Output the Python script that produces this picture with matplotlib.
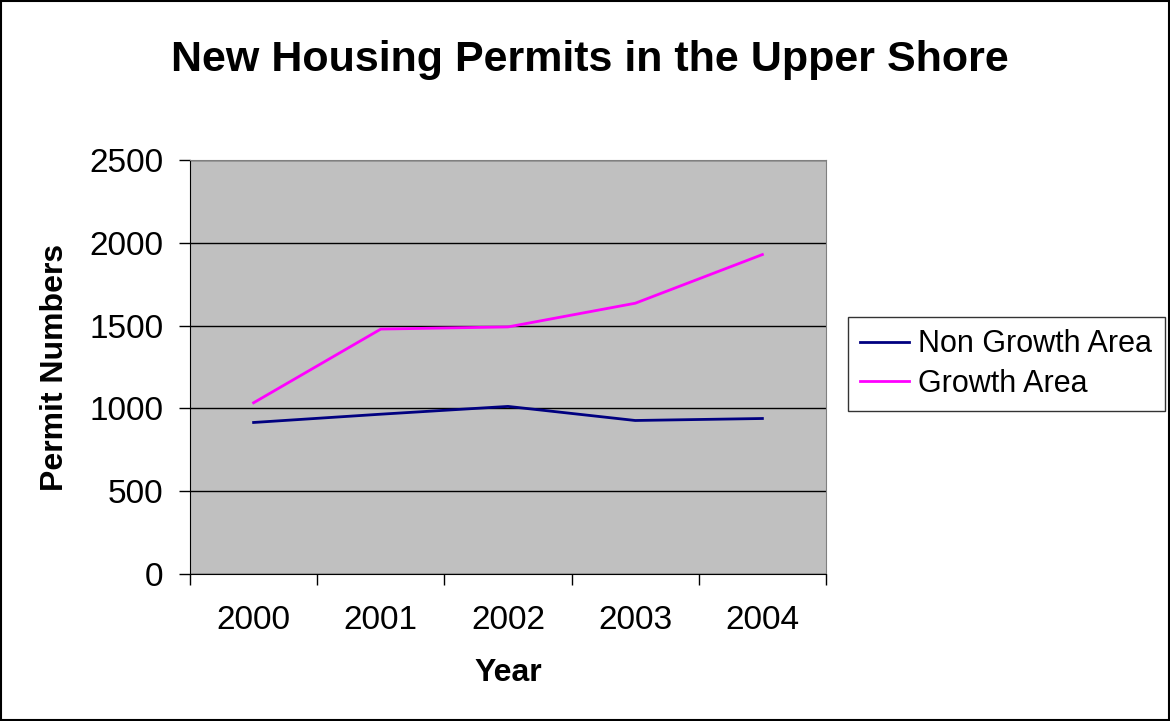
import matplotlib
matplotlib.use("Agg")
import matplotlib.pyplot as plt
from matplotlib.patches import Rectangle

plt.rcParams['font.family'] = ['Liberation Sans', 'DejaVu Sans']

years = ["2000", "2001", "2002", "2003", "2004"]
non_growth = [915, 965, 1012, 927, 939]
growth = [1034, 1479, 1492, 1635, 1929]

fig = plt.figure(figsize=(11.7, 7.21), dpi=100)
ax = fig.add_axes([190/1170, 1 - 574/721, (826-190)/1170, (574-160)/721])

x = list(range(len(years)))
ax.plot(x, non_growth, color="#000080", lw=2, label="Non Growth Area")
ax.plot(x, growth, color="#FF00FF", lw=2, label="Growth Area")

ax.set_facecolor("#C0C0C0")
ax.set_xlim(-0.5, len(years) - 0.5)
ax.set_ylim(0, 2500)
ax.set_yticks([0, 500, 1000, 1500, 2000, 2500])
ax.yaxis.grid(True, color="black", lw=1)
ax.set_axisbelow(True)

ax.set_xticks(x)
ax.set_xticklabels(years)
ax.set_xticks([i - 0.5 for i in range(len(years) + 1)], minor=True)
ax.tick_params(axis="x", which="major", length=0, pad=22, labelsize=24)
ax.tick_params(axis="x", which="minor", length=8, width=1, direction="out")
ax.tick_params(axis="y", length=8, width=1, direction="out", labelsize=24, pad=11)

for s in ["top", "right"]:
    ax.spines[s].set_color("#808080")
for s in ["left", "bottom"]:
    ax.spines[s].set_color("black")

ax.set_xlabel("Year", fontsize=23, fontweight="bold", labelpad=16)
ax.set_ylabel("Permit Numbers", fontsize=23, fontweight="bold", labelpad=14)

fig.text(590/1170, 1 - 60/721, "New Housing Permits in the Upper Shore",
         ha="center", va="center", fontsize=31, fontweight="bold")

leg = ax.legend(loc="center left", bbox_to_anchor=(848/1170, 1 - 364/721),
                bbox_transform=fig.transFigure, fontsize=22, frameon=True,
                fancybox=False, edgecolor="black", handlelength=1.6,
                handletextpad=0.3, borderpad=0.4, labelspacing=0.3,
                borderaxespad=0)
leg.get_frame().set_linewidth(1)

fig.patches.append(Rectangle((0.001, 0.001), 0.998, 0.998, transform=fig.transFigure,
                             fill=False, edgecolor="black", lw=1.5))

fig.savefig("out.png", dpi=100, facecolor="white")
